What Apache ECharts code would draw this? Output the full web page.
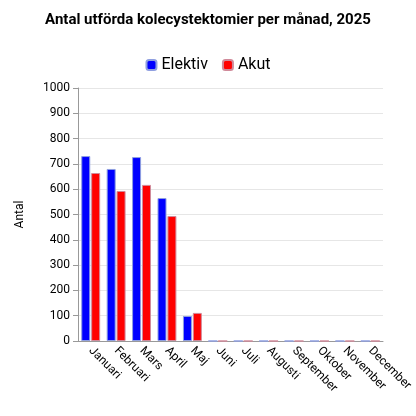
<!DOCTYPE html><html><head><meta charset="utf-8"><script src="https://cdn.jsdelivr.net/npm/echarts@6/dist/echarts.min.js"></script>
<style>body{margin:0}#c{width:416px;height:416px}</style></head><body><div id="c"></div><script>
const categories=['Januari','Februari','Mars','April','Maj','Juni','Juli','Augusti','September','Oktober','November','December'];
const elektiv=[731,680,727,565,99,0,0,0,0,0,0,0];
const akut=[664,593,617,494,111,0,0,0,0,0,0,0];
const yTicks=[0,100,200,300,400,500,600,700,800,900,1000];
const c=echarts.init(document.getElementById('c'));
c.setOption({
title:{text:'Antal utförda kolecystektomier per månad, 2025',left:'center',top:8,textStyle:{fontFamily:'Roboto',fontSize:15,fontWeight:'bold',color:'#000'}},
legend:{top:52,itemWidth:10,itemHeight:10,itemGap:14,textStyle:{fontFamily:'Roboto',fontSize:16,color:'#000'},data:['Elektiv','Akut']},
grid:{left:78,right:33,top:88,bottom:75},
xAxis:{type:'category',data:categories,axisLine:{lineStyle:{color:'#999'}},axisTick:{alignWithLabel:false,lineStyle:{color:'#999'}},
axisLabel:{rotate:-45,interval:0,fontFamily:'Roboto',fontSize:12,color:'#000',align:'left',margin:8}},
yAxis:{type:'value',min:0,max:1000,interval:100,name:'Antal',nameLocation:'middle',nameGap:52,nameTextStyle:{fontFamily:'Roboto',fontSize:12,color:'#000'},
axisLine:{show:true,lineStyle:{color:'#999'}},axisTick:{show:true,lineStyle:{color:'#999'}},
axisLabel:{fontFamily:'Roboto',fontSize:12,color:'#000',formatter:v=>yTicks.includes(v)?String(v):''},splitLine:{lineStyle:{color:'#e6e6e6'}}},
series:[
{name:'Elektiv',type:'bar',data:elektiv,barWidth:9,barGap:'10%',itemStyle:{color:'#0000ff',borderColor:'#8f9fe0',borderWidth:1}},
{name:'Akut',type:'bar',data:akut,barWidth:9,itemStyle:{color:'#ff0000',borderColor:'#d08a9a',borderWidth:1}}
]});
</script></body></html>
